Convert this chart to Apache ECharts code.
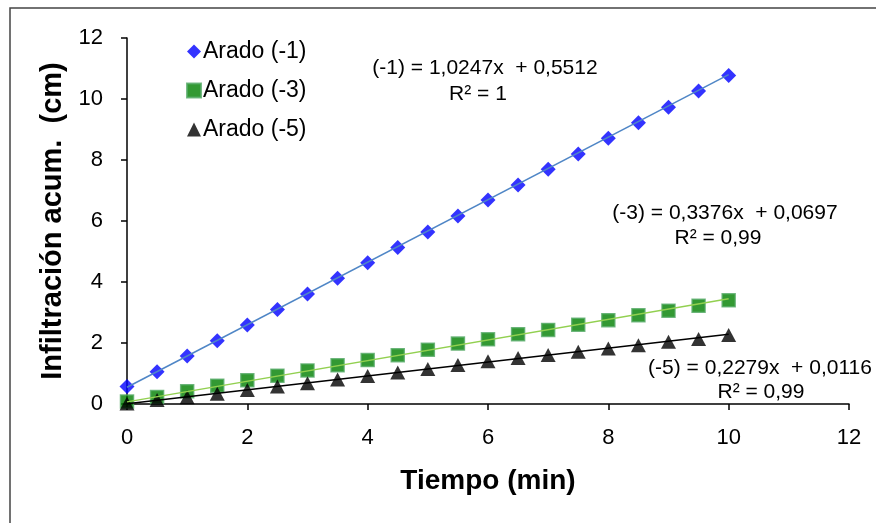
<!DOCTYPE html>
<html>
<head>
<meta charset="utf-8">
<script src="https://cdn.jsdelivr.net/npm/echarts@6/dist/echarts.min.js"></script>
<style>html,body{margin:0;padding:0;background:#fff;}#c{width:876px;height:523px;}</style>
</head>
<body>
<div id="c"></div>
<script>
// Time (min)
const tiempo = [0, 0.5, 1, 1.5, 2, 2.5, 3, 3.5, 4, 4.5, 5, 5.5, 6, 6.5, 7, 7.5, 8, 8.5, 9, 9.5, 10];
// Accumulated infiltration (cm)
const arado1 = [0.57, 1.06, 1.57, 2.07, 2.59, 3.10, 3.61, 4.12, 4.63, 5.13, 5.64, 6.16, 6.69, 7.18, 7.70, 8.20, 8.71, 9.22, 9.73, 10.26, 10.77];
const arado3 = [0.08, 0.23, 0.42, 0.60, 0.78, 0.93, 1.10, 1.27, 1.44, 1.60, 1.78, 1.98, 2.12, 2.29, 2.43, 2.60, 2.75, 2.91, 3.06, 3.22, 3.40];
const arado5 = [0.02, 0.13, 0.22, 0.34, 0.46, 0.57, 0.68, 0.80, 0.92, 1.03, 1.15, 1.28, 1.40, 1.51, 1.61, 1.71, 1.82, 1.93, 2.04, 2.13, 2.26];
// Trendline end points (x, y)
const trendX = [0, 10];
const trend1 = [0.55, 10.80];
const trend3 = [0.07, 3.45];
const trend5 = [0.01, 2.29];
const seriesNames = ['Arado (-1)', 'Arado (-3)', 'Arado (-5)'];
const eqLines = [
  ['(-1) = 1,0247x  + 0,5512', 'R² = 1'],
  ['(-3) = 0,3376x  + 0,0697', 'R² = 0,99'],
  ['(-5) = 0,2279x  + 0,0116', 'R² = 0,99']
];
const xTicks = [0, 2, 4, 6, 8, 10, 12];
const yTicks = [0, 2, 4, 6, 8, 10, 12];

const pair = (xs, ys) => xs.map((x, i) => [x, ys[i]]);
const FONT = 'Liberation Sans, Arial, sans-serif';

const chart = echarts.init(document.getElementById('c'), null, {renderer: 'canvas'});
const eqStyle = (text, x, y) => ({
  type: 'text', x: x, y: y,
  style: {text: text, font: '21px ' + FONT, fill: '#000', textAlign: 'center', textVerticalAlign: 'middle'}
});
chart.setOption({
  animation: false,
  backgroundColor: '#fff',
  grid: {left: 127, right: 27, top: 38, bottom: 119, containLabel: false},
  xAxis: {
    type: 'value', min: xTicks[0], max: xTicks[xTicks.length - 1], interval: 2,
    name: 'Tiempo (min)', nameLocation: 'middle', nameGap: 63,
    nameTextStyle: {fontFamily: FONT, fontSize: 28, fontWeight: 'bold', color: '#000'},
    axisLine: {show: true, onZero: false, lineStyle: {color: '#000', width: 1.5}},
    axisTick: {show: true, inside: false, length: 6, lineStyle: {color: '#000', width: 1.5}},
    axisLabel: {fontFamily: FONT, fontSize: 22, color: '#000', margin: 23},
    splitLine: {show: false}
  },
  yAxis: {
    type: 'value', min: yTicks[0], max: yTicks[yTicks.length - 1], interval: 2,
    name: 'Infiltración acum.  (cm)', nameLocation: 'middle', nameGap: 53, nameRotate: 90,
    nameTextStyle: {fontFamily: FONT, fontSize: 29, fontWeight: 'bold', color: '#000'},
    axisLine: {show: true, onZero: false, lineStyle: {color: '#000', width: 1.5}},
    axisTick: {show: true, inside: false, length: 6, lineStyle: {color: '#000', width: 1.5}},
    axisLabel: {fontFamily: FONT, fontSize: 22, color: '#000', margin: 24},
    splitLine: {show: false}
  },
  legend: {
    orient: 'vertical', left: 181, top: 35, itemGap: 16, itemWidth: 14, itemHeight: 14,
    textStyle: {fontFamily: FONT, fontSize: 23, color: '#000', padding: [0, 0, 0, -3]},
    data: [
      {name: seriesNames[0], icon: 'diamond'},
      {name: seriesNames[1], icon: 'rect'},
      {name: seriesNames[2], icon: 'triangle'}
    ]
  },
  graphic: [
    {type: 'rect', shape: {x: 10, y: 8, width: 900, height: 600}, style: {fill: 'none', stroke: '#444', lineWidth: 1.5}, silent: true},
    eqStyle(eqLines[0][0], 485, 68), eqStyle(eqLines[0][1], 478, 94),
    eqStyle(eqLines[1][0], 725, 213), eqStyle(eqLines[1][1], 718, 238),
    eqStyle(eqLines[2][0], 760, 368), eqStyle(eqLines[2][1], 761, 392)
  ],
  series: [
    {name: seriesNames[0], type: 'scatter', symbol: 'diamond', symbolSize: 15, z: 2,
     itemStyle: {color: '#0000FF'}, data: pair(tiempo, arado1)},
    {name: seriesNames[1], type: 'scatter', symbol: 'rect', symbolSize: 13, z: 2,
     itemStyle: {color: '#008000', borderColor: '#55AA66', borderWidth: 1.5}, data: pair(tiempo, arado3)},
    {name: seriesNames[2], type: 'scatter', symbol: 'triangle', symbolSize: [15, 14], z: 2,
     itemStyle: {color: '#000'}, data: pair(tiempo, arado5)},
    {name: 't1', type: 'line', symbol: 'none', z: 3, silent: true,
     lineStyle: {color: '#4F86C6', width: 1.5}, data: pair(trendX, trend1)},
    {name: 't3', type: 'line', symbol: 'none', z: 3, silent: true,
     lineStyle: {color: '#92D050', width: 1.5}, data: pair(trendX, trend3)},
    {name: 't5', type: 'line', symbol: 'none', z: 3, silent: true,
     lineStyle: {color: '#000', width: 1.5}, data: pair(trendX, trend5)}
  ]
});
</script>
</body>
</html>
